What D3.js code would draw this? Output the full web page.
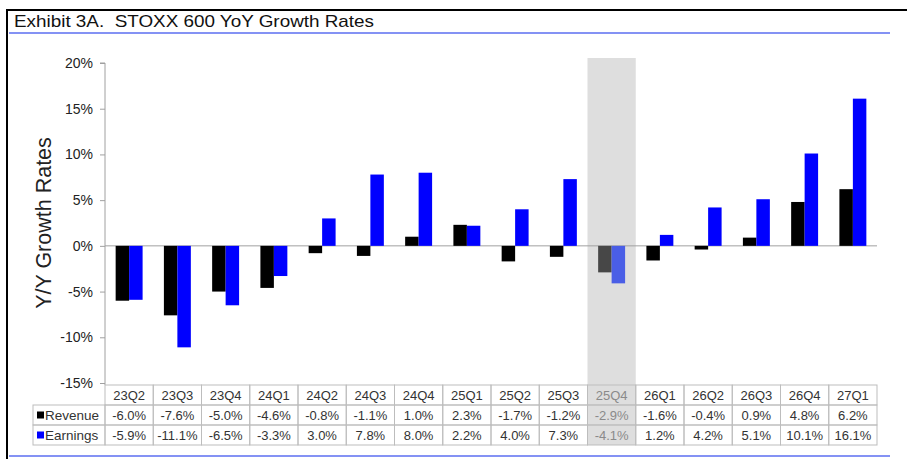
<!DOCTYPE html>
<html><head><meta charset="utf-8">
<script src="https://cdn.jsdelivr.net/npm/d3@7"></script>
<style>html,body{margin:0;padding:0;background:#fff;}svg{display:block;font-family:"Liberation Sans",Arial,sans-serif;}</style>
</head><body>
<svg id="c" width="907" height="459"></svg>
<script>
const categories = ["23Q2","23Q3","23Q4","24Q1","24Q2","24Q3","24Q4","25Q1","25Q2","25Q3","25Q4","26Q1","26Q2","26Q3","26Q4","27Q1"];
const revenue = [-6.0,-7.6,-5.0,-4.6,-0.8,-1.1,1.0,2.3,-1.7,-1.2,-2.9,-1.6,-0.4,0.9,4.8,6.2];
const earnings = [-5.9,-11.1,-6.5,-3.3,3.0,7.8,8.0,2.2,4.0,7.3,-4.1,1.2,4.2,5.1,10.1,16.1];
const seriesNames = ["Revenue","Earnings"];
const yTicks = [-15,-10,-5,0,5,10,15,20];
const highlight = "25Q4";
const title = "Exhibit 3A.  STOXX 600 YoY Growth Rates";
const yTitle = "Y/Y Growth Rates";

const svg = d3.select("#c");
svg.append("rect").attr("width",907).attr("height",459).attr("fill","#fff");

// frame
svg.append("line").attr("x1",6).attr("x2",907).attr("y1",10).attr("y2",10).attr("stroke","#000").attr("stroke-width",2);
svg.append("line").attr("x1",7).attr("x2",7).attr("y1",9).attr("y2",459).attr("stroke","#000").attr("stroke-width",2);
svg.append("text").attr("transform","translate(14,27) scale(1.18,1)").attr("font-size",16).attr("fill","#111")
  .style("white-space","pre").attr("xml:space","preserve").text(title);
const blue = "#5b6ef0";
svg.append("line").attr("x1",9).attr("x2",890).attr("y1",33).attr("y2",33).attr("stroke",blue).attr("stroke-width",1.5);
svg.append("line").attr("x1",9).attr("x2",890).attr("y1",456).attr("y2",456).attr("stroke",blue).attr("stroke-width",1.5);

const x = d3.scaleBand().domain(categories).range([105,877]).padding(0);
const xs = d3.scaleBand().domain(seriesNames).range([0,x.bandwidth()]).paddingInner(0).paddingOuter(0.79);
const y = d3.scaleLinear().domain([-15,20]).range([383,63]);

const rowTop = 385, rowH = 20;

// highlight band
svg.append("rect").attr("x",x(highlight)).attr("width",x.bandwidth()).attr("y",58).attr("height",rowTop+3*rowH-58).attr("fill","#dedede");

// axis
const ax = svg.append("g").attr("transform","translate(105,0)").call(d3.axisLeft(y).tickValues(yTicks).tickSize(5).tickPadding(7).tickFormat(d=>d+"%"));
ax.select(".domain").attr("stroke","#a0a0a0").attr("d","M-5,"+y(20)+"H0V"+rowTop);
ax.selectAll(".tick line").attr("stroke","#a0a0a0");
ax.selectAll(".tick text").attr("font-size",14).attr("fill","#222").attr("font-family","Liberation Sans, Arial, sans-serif");

// zero line
svg.append("line").attr("x1",105).attr("x2",877).attr("y1",y(0)).attr("y2",y(0)).attr("stroke","#a0a0a0").attr("stroke-width",1);

// bars
const data = categories.map((c,i)=>({c, vals:[{s:"Revenue",v:revenue[i]},{s:"Earnings",v:earnings[i]}]}));
const g = svg.selectAll("g.cat").data(data).join("g").attr("class","cat").attr("transform",d=>`translate(${x(d.c)},0)`);
g.selectAll("rect").data(d=>d.vals.map(v=>({...v,c:d.c}))).join("rect")
  .attr("x",d=>xs(d.s)).attr("width",xs.bandwidth())
  .attr("y",d=>y(Math.max(0,d.v))).attr("height",d=>Math.abs(y(d.v)-y(0)))
  .attr("fill",d=>{
    const hl = d.c===highlight;
    if(d.s==="Revenue") return hl?"#474747":"#000";
    return hl?"#4a5ee6":"#0000ff";
  });

// y title
svg.append("text").attr("transform","translate(51,223) rotate(-90)").attr("text-anchor","middle").attr("font-size",21.5).attr("fill","#222").text(yTitle);

// table
const tb = svg.append("g");
const border = "#bdbdbd";
const fmt = v=>v.toFixed(1)+"%";
categories.forEach((c,i)=>{
  const x0 = x(c), w = x.bandwidth(), hl = c===highlight;
  const rows = [c, fmt(revenue[i]), fmt(earnings[i])];
  rows.forEach((t,r)=>{
    tb.append("rect").attr("x",x0).attr("y",rowTop+r*rowH).attr("width",w).attr("height",rowH).attr("fill","none").attr("stroke",border);
    tb.append("text").attr("x",x0+w/2).attr("y",rowTop+r*rowH+15).attr("text-anchor","middle").attr("font-size",13).attr("fill",hl?"#8a8a8a":"#333").text(t);
  });
});
seriesNames.forEach((s,r)=>{
  const yy = rowTop+(r+1)*rowH;
  tb.append("rect").attr("x",33).attr("y",yy).attr("width",72).attr("height",rowH).attr("fill","none").attr("stroke",border);
  tb.append("rect").attr("x",37).attr("y",yy+6.5).attr("width",7).attr("height",7).attr("fill",r===0?"#000":"#0000ff");
  tb.append("text").attr("x",45).attr("y",yy+15).attr("font-size",13.5).attr("fill","#333").text(s);
});
</script>
</body></html>
